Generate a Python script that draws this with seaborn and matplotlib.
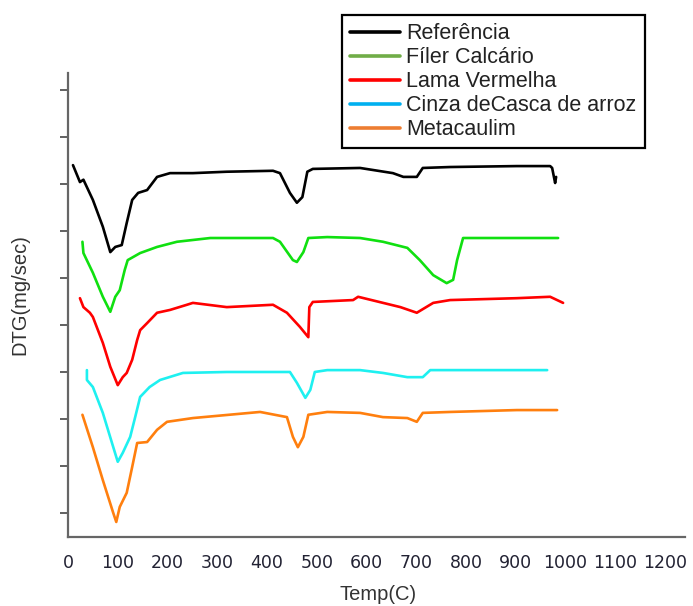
import matplotlib
matplotlib.use("Agg")
import matplotlib.pyplot as plt
from matplotlib.lines import Line2D
import numpy as np
import pandas as pd
import seaborn as sns

# DTG curves (temperature in C, DTG in arbitrary offset units)
ref_temp = [10, 24, 31, 50, 70, 85, 95, 108, 118, 129, 141, 159, 179, 205, 251, 319, 412, 426,
            446, 460, 471, 481, 492, 587, 653, 674, 701, 713, 768, 902, 969, 973, 979, 981]
ref_dtg = [8.40, 8.04, 8.09, 7.66, 7.09, 6.55, 6.66, 6.70, 7.17, 7.66, 7.81, 7.87, 8.15, 8.23, 8.23,
           8.26, 8.28, 8.23, 7.81, 7.60, 7.72, 8.26, 8.32, 8.34, 8.23, 8.15, 8.15, 8.34, 8.36, 8.38,
           8.38, 8.34, 8.02, 8.15]

filer_temp = [29, 31, 50, 70, 85, 95, 104, 114, 120, 145, 179, 219, 286, 412, 426, 452, 460, 473,
              483, 521, 587, 633, 682, 707, 734, 761, 774, 782, 794, 834, 985]
filer_dtg = [6.77, 6.53, 6.11, 5.60, 5.28, 5.60, 5.74, 6.17, 6.38, 6.53, 6.66, 6.77, 6.85, 6.85,
             6.77, 6.38, 6.34, 6.55, 6.85, 6.87, 6.85, 6.77, 6.64, 6.38, 6.06, 5.89, 5.96, 6.38,
             6.85, 6.85, 6.85]

lama_temp = [24, 31, 44, 50, 70, 85, 100, 110, 118, 129, 139, 145, 159, 179, 205, 239, 251, 319,
             412, 440, 466, 483, 485, 492, 573, 583, 668, 701, 734, 768, 902, 969, 995]
lama_dtg = [5.57, 5.38, 5.26, 5.17, 4.62, 4.11, 3.72, 3.89, 3.98, 4.26, 4.68, 4.89, 5.04, 5.26,
            5.32, 5.43, 5.47, 5.38, 5.43, 5.26, 4.96, 4.74, 5.38, 5.49, 5.53, 5.60, 5.38, 5.26,
            5.47, 5.53, 5.57, 5.60, 5.47]

cinza_temp = [38, 38, 50, 70, 91, 100, 110, 125, 135, 145, 164, 185, 231, 319, 446, 460, 477, 487,
              496, 521, 587, 633, 682, 713, 728, 768, 963]
cinza_dtg = [4.04, 3.83, 3.68, 3.13, 2.40, 2.09, 2.28, 2.62, 3.04, 3.47, 3.68, 3.83, 3.98, 4.00,
             4.00, 3.77, 3.45, 3.62, 4.00, 4.04, 4.04, 3.98, 3.89, 3.89, 4.04, 4.04, 4.04]

meta_temp = [29, 50, 70, 91, 97, 104, 118, 129, 139, 159, 179, 199, 251, 386, 440, 452, 462, 473,
             483, 521, 587, 633, 682, 701, 713, 768, 902, 983]
meta_dtg = [3.09, 2.40, 1.70, 1.00, 0.81, 1.13, 1.43, 1.98, 2.49, 2.51, 2.77, 2.94, 3.02, 3.15,
            3.04, 2.62, 2.40, 2.62, 3.09, 3.15, 3.13, 3.04, 3.02, 2.94, 3.13, 3.15, 3.19, 3.19]

series_names = ["Referência", "Fíler Calcário", "Lama Vermelha",
                "Cinza deCasca de arroz", "Metacaulim"]
curve_colors = ["#000000", "#10e010", "#ff0000", "#1ef0f0", "#ff7f0e"]
legend_colors = ["#000000", "#70ad47", "#ff0000", "#00b0f0", "#ed7d31"]
x_ticks = list(range(0, 1300, 100))
y_ticks = list(range(1, 11))

frames = []
for name, t, d in zip(series_names,
                      [ref_temp, filer_temp, lama_temp, cinza_temp, meta_temp],
                      [ref_dtg, filer_dtg, lama_dtg, cinza_dtg, meta_dtg]):
    frames.append(pd.DataFrame({"Temp": t, "DTG": d, "Amostra": name,
                                "order": np.arange(len(t))}))
df = pd.concat(frames, ignore_index=True)

sns.set_theme(style="white")
plt.rcParams["font.family"] = ["Liberation Sans", "DejaVu Sans"]

fig = plt.figure(figsize=(6.93, 6.06), dpi=100)
ax = fig.add_axes([68 / 693, 1 - 537 / 606, 617 / 693, 464 / 606])

sns.lineplot(data=df, x="Temp", y="DTG", hue="Amostra", units="Amostra",
             estimator=None, sort=False, palette=dict(zip(series_names, curve_colors)),
             linewidth=1.9, legend=False, ax=ax)

ax.set_xlim(0, 1240)
ax.set_ylim(0.49, 10.36)
ax.set_xticks(x_ticks)
ax.set_xticklabels([str(v) for v in x_ticks], fontfamily="DejaVu Sans",
                   fontsize=12.5, color="#222233")
ax.set_yticks(y_ticks)
ax.set_yticklabels([])
ax.tick_params(axis="x", length=0, pad=12)
ax.tick_params(axis="y", left=True, length=6, width=1.3, color="#555555", direction="out")
ax.set_xlabel("")
ax.set_ylabel("")

for side in ["top", "right"]:
    ax.spines[side].set_visible(False)
for side in ["left", "bottom"]:
    ax.spines[side].set_color("#666666")
    ax.spines[side].set_linewidth(1.6)

fig.text(20 / 693, 1 - 295 / 606, "DTG(mg/sec)", rotation=90, ha="center", va="center",
         fontsize=14.5, color="#333333")
fig.text(378 / 693, 1 - 595 / 606, "Temp(C)", ha="center", va="center",
         fontsize=14.5, color="#333333")

handles = [Line2D([0], [0], color=c, linewidth=2.6) for c in legend_colors]
leg = fig.legend(handles, series_names, loc="upper left",
                 bbox_to_anchor=(342 / 693, 1 - 15 / 606), borderaxespad=0,
                 fontsize=15.5, frameon=True, fancybox=False, framealpha=1,
                 handlelength=2.3, handletextpad=0.3, labelspacing=0.14,
                 borderpad=0.38)
leg.get_frame().set_edgecolor("#000000")
leg.get_frame().set_linewidth(1.6)
for txt in leg.get_texts():
    txt.set_color("#222222")

fig.savefig("out.png", dpi=100)
